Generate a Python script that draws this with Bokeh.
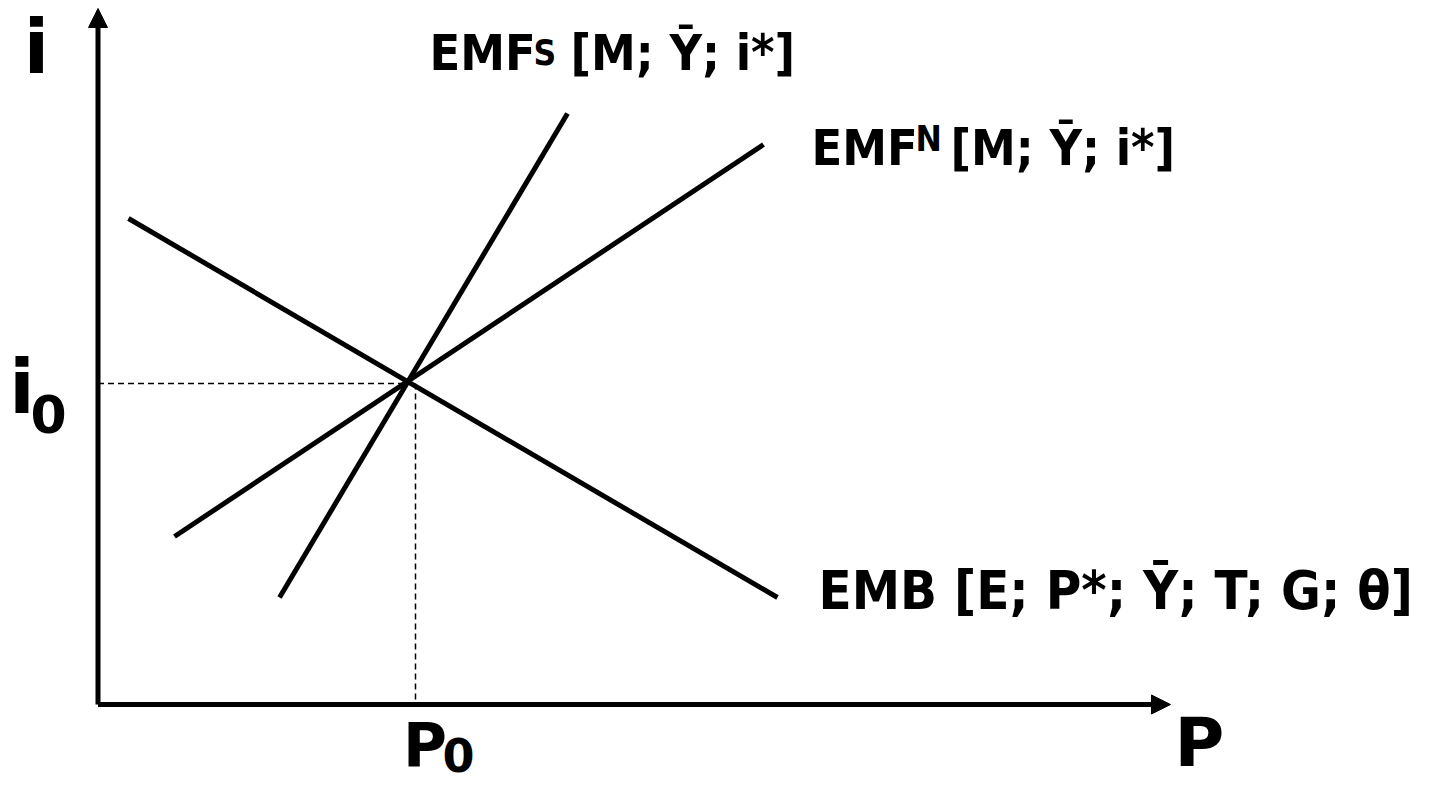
from bokeh.plotting import figure
from bokeh.models import Range1d, Arrow, NormalHead
from bokeh.core.properties import value
from bokeh.embed import file_html
from bokeh.resources import INLINE

# ---- data (P on x, i on y; arbitrary units) ----
emb_p = [0.305, 6.795]
emb_i = [4.86, 1.07]
emfn_p = [0.765, 6.655]
emfn_i = [1.68, 5.60]
emfs_p = [1.815, 4.695]
emfs_i = [1.07, 5.91]
eq_p = 3.075          # intersection
p0 = 3.175            # P0 guide
i0 = 3.21             # i0 guide
p_axis_end = 10.725
i_axis_end = 6.96

FONT = "DejaVu Sans Condensed"

p = figure(width=1419, height=785,
           x_range=Range1d(-0.975, 13.215), y_range=Range1d(-0.81, 7.04),
           x_axis_type=None, y_axis_type=None,
           output_backend="svg", toolbar_location=None, min_border=0)
p.grid.visible = False
p.outline_line_color = None

# axes with arrows
head = dict(size=19, fill_color="black", line_color="black", line_width=1)
p.add_layout(Arrow(end=NormalHead(**head), x_start=0, y_start=0, x_end=0, y_end=i_axis_end,
                   line_width=5, line_color="black"))
p.add_layout(Arrow(end=NormalHead(**head), x_start=0, y_start=0, x_end=p_axis_end, y_end=0,
                   line_width=5, line_color="black"))

# dashed guides
p.line([0, eq_p], [i0, i0], line_dash="6 4", line_width=1.5, line_color="black")
p.line([p0, p0], [i0, 0], line_dash="6 4", line_width=1.5, line_color="black")

# curves
for xs, ys in [(emb_p, emb_i), (emfn_p, emfn_i), (emfs_p, emfs_i)]:
    p.line(xs, ys, line_width=5, line_color="black")

def txt(x, y, s, size, font=FONT, align="left"):
    p.text(x=[x], y=[y], text=[s], text_font=value(font), text_font_style="bold",
           text_font_size=size, text_align=align, text_baseline="alphabetic",
           text_color="black")

# curve labels
txt(3.315, 6.52, "EMF", "50px")
txt(4.355, 6.52, "S", "35px")
txt(4.725, 6.52, "[M; \u0232; i*]", "50px")

txt(7.135, 5.57, "EMF", "50px")
txt(8.175, 5.66, "N", "35px")
txt(8.525, 5.57, "[M; \u0232; i*]", "50px")

txt(7.205, 1.14, "EMB [E; P*; \u0232; T; G; \u03b8]", "54px")

# axis labels
txt(-0.615, 6.58, "i", "74px", font="DejaVu Sans", align="center")
txt(-0.76, 3.18, "i", "74px", font="DejaVu Sans", align="center")
txt(-0.495, 2.91, "0", "52px", font="DejaVu Sans", align="center")
txt(3.27, -0.40, "P", "60px", font="DejaVu Sans", align="center")
txt(3.605, -0.50, "0", "46px", font="DejaVu Sans", align="center")
txt(11.015, -0.38, "P", "68px", font="DejaVu Sans", align="center")

open("out.html", "w").write(file_html(p, INLINE))
